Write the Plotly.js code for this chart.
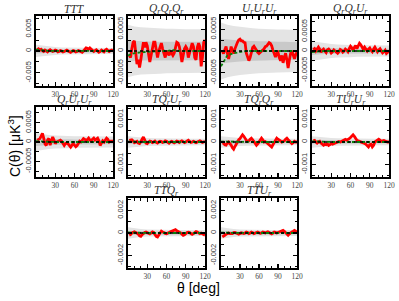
<!DOCTYPE html>
<html><head><meta charset="utf-8">
<script src="https://cdn.plot.ly/plotly-3.0.1.min.js"></script>
<style>html,body{margin:0;padding:0;background:#fff}#chart{width:399px;height:301px}</style>
</head><body><div id="chart"></div>
<script>
// All correlation values below are in units of 1e-4 muK^3
const UNIT = 1e-4;
const theta = [2,4,6,8,10,12,14,16,18,20,22,24,26,28,30,32,34,36,38,40,42,44,46,48,50,52,54,56,58,60,
  62,64,66,68,70,72,74,76,78,80,82,84,86,88,90,92,94,96,98,100,102,104,106,108,110,112,114,116,118,120];
const thetaBand = [0,10,20,30,40,50,60,70,80,90,100,110,120];
const xTickVals = [30,60,90,120];
const xTickText = ['30','60','90','120'];

const panelTitles = ['TTT','Q<sub>r</sub>Q<sub>r</sub>Q<sub>r</sub>','U<sub>r</sub>U<sub>r</sub>U<sub>r</sub>','Q<sub>r</sub>Q<sub>r</sub>U<sub>r</sub>',
  'Q<sub>r</sub>U<sub>r</sub>U<sub>r</sub>','TQ<sub>r</sub>U<sub>r</sub>','TQ<sub>r</sub>Q<sub>r</sub>','TU<sub>r</sub>U<sub>r</sub>',
  'TTQ<sub>r</sub>','TTU<sub>r</sub>'];

// red: measured correlation
const redTTT = [3,5,2,4,1,-1,2,0,-2,1,3,1,-1,0,2,1,-2,-1,1,0,-2,-1,1,2,0,-1,-3,-1,1,0,
  -2,-1,1,0,-1,-3,0,5,7,6,4,7,5,2,-1,1,3,0,-3,-1,2,0,-2,2,4,1,-1,1,2,0];
const redQQQ = [-1,-1.5,0.5,2,2.3,0,-3,-2,-3.8,-2,0.5,2,0.8,2,1.2,-1,-2.5,-1,0.8,2,2,0.5,-1.5,0,1.2,1.8,0.5,-0.5,-1.5,0,
  -0.5,-1,0,-0.5,-1,-0.5,0.8,2,1.8,1,-0.5,-2.5,-1,0.5,1,0.5,-1.5,-0.5,0.5,1.8,1,-1.5,-2,0.8,1.8,1,-3.5,-1.5,2,2.5];
const redUUU = [0,-0.6,0.3,1,-0.5,-1.8,-0.5,1,0.2,-0.6,0.5,1.5,2,2.5,2.7,2.3,2.3,2,1.9,-0.5,-1.4,-2.2,-1.5,-0.2,0.8,1.1,0.5,0,-0.3,-0.6,
  -0.4,0,0.2,0.5,1,1.1,1.5,1.9,1.7,1.2,0.2,-0.8,-1.4,-0.5,-0.3,-1.5,-2.2,-1,-2.7,-1.5,-0.5,-2,-3.9,-2,-0.5,0,-1,-1.8,-0.8,-0.3];
const redQQU = [0.3,0.6,0,0.5,1,0.5,-0.3,0.2,0.5,0,-0.4,0.3,0.5,0.1,-0.5,-0.2,0.3,0,-0.3,-0.6,-0.2,0.4,0.2,-0.3,0,0.5,0.2,-0.2,0.6,1.2,
  0.8,0.2,0.9,1.4,0.6,1.2,2,1.6,0.8,0.4,1,0.6,0,0.5,0.8,0.2,-0.2,0.5,1,0.4,-0.2,0.3,0.6,0,-0.5,-0.2,0.2,-0.6,-0.2,0];
const redQUU = [0.4,0.7,0.9,1.5,2.2,1,-0.5,-0.9,0.5,0.9,-0.8,0.3,1.3,0.5,-0.4,0,0.2,0.3,0.5,0.2,-0.6,-0.9,-0.4,-0.3,-0.5,-0.9,-1.3,-0.8,-0.4,-0.8,
  -1.2,-0.9,-0.4,0.2,0,0.5,0.9,0.7,0.4,0.6,1,0.5,0.4,0.7,1,0.5,0.8,1,0.3,-0.9,-0.3,0.3,0,0.6,1,0.7,0,0.2,0.3,0.2];
const redTQU = [0.7,0.8,1,0.5,-0.3,0,0.3,-0.5,-0.7,0.2,1.5,2.2,1,-0.5,-0.7,0,0.4,0.2,-0.3,0,0.4,-0.2,-0.5,0,0.3,0.2,-0.2,0,0.5,0.3,
  -0.3,-0.5,0,0.3,0,-0.4,0,0.4,0.2,-0.2,0.2,0.5,0.2,-0.3,0,0.5,0.8,0.3,-0.2,0,0.3,0,-0.3,0,0.2,0.5,0.2,-0.2,0,0.3];
const redTQQ = [-0.7,-0.5,-1.2,-1.4,-0.5,0,-0.8,-1.4,-2.5,-3.2,-2,-0.8,0.5,1,1.5,2.2,3.2,2.5,1.5,0.8,0.3,0.5,1.2,1.7,1,0.3,-0.5,-1.4,-0.8,0,
  1,1.7,1,0,0.2,-0.3,-0.7,-1.2,-1.8,-2.2,-1.2,0,1,1.7,1.2,1,0.5,0,0.2,0.5,1.2,1.7,1,0.3,-0.3,-0.7,-0.3,0.3,0,0];
const redTUU = [0.5,0.7,0,-0.5,0,0.3,-0.5,-1,-1.4,-1,-1.2,-0.8,-1.5,-1.2,-0.7,-1,-0.8,-0.5,-0.2,0,0.2,0,0.3,0.7,1,1.2,0.8,1,1.5,2,
  2.8,3.2,2.5,1.3,0.8,0.5,0.3,0,0,-0.3,-0.7,-1,-1.8,-2.2,-1.2,-1,-2.2,-1.5,0,0.5,1,1.2,0.8,0.3,0.5,0.7,0.4,0,0,0];
const redTTQ = [-2,-1.5,0,0.5,1,0.5,0,-1,-2.5,-2.9,-1.5,0,0.5,0.8,0.3,-0.5,-0.8,0,1,0.5,-1.5,-3,-3.5,-1.5,0.5,1.7,1,0,-0.3,-0.6,
  -0.3,0.5,1,1.5,2.5,3.2,3,2,1.5,0.8,0,-1,-2,-1.5,0,0.5,0.8,0.5,-0.5,-1.2,-0.5,0.8,1.2,0.8,-0.2,-0.6,0,-0.8,-1.5,-2];
const redTTU = [-3.5,-3,-2,-1.2,-0.5,0,-0.5,-0.8,-0.5,0.3,0.5,0,-0.8,-1,-0.5,0.2,0,-0.5,0,0.8,0.5,-0.5,0,0.8,0.3,-0.6,0,0.5,0.8,0.3,
  -0.3,0,0.8,0.5,0,0.6,1,0.5,-0.5,-0.8,0,0.8,0.5,0,0.5,1,1.5,2,2.3,1.5,0,-1.5,-2,-0.8,0.3,1,1.5,2.2,1.5,0.8];

// green: simulation mean (on thetaBand)
const greenTTT = [3,1,0.5,0.2,0,0,0,0,0,0,0,0,0];
const greenQQQ = [-1,-0.5,-0.3,-0.2,0,0,0,0.2,0,0,0,0,0];
const greenUUU = [-3.5,-1,-0.5,-0.2,0,0,0,0,0,0,0,0,0];
const greenQQU = [-0.3,-0.1,0,0,0,0,0,0,0,0,0,0,0];
const greenQUU = [0.2,0.1,0,0,0,0,0,0,0,0,0,0,0];
const greenTQU = [0.2,0,0,0,0,0,0,0,0,0,0,0,0];
const greenTQQ = [0.2,0.1,0,0,0,0,0,0,0,0,0,0,0];
const greenTUU = [0.3,0.1,0,0,0,0,0,0,0,0,0,0,0];
const greenTTQ = [0.5,0.2,0,0,0,0,0,0,0,0,0,0,0];
const greenTTU = [0.3,0.1,0,0,0,0,0,0,0,0,0,0,0];

// gray bands: half-widths of outer (2 sigma) and inner (1 sigma) regions (on thetaBand)
const outerTTT = [14,12,10,9,8,8,7,7,7,7,7,7,7];
const innerTTT = [6,5,4,4,3.5,3.5,3,3,3,3,3,3,3];
const outerQQQ = [6,5.6,5.4,5.3,5.2,5.2,5.1,5.1,5,5,5,5,5];
const innerQQQ = [2.4,2.3,2.2,2.2,2.1,2.1,2.1,2.1,2.1,2.1,2.1,2.1,2.1];
const outerUUU = [6.5,6,5.7,5.5,5.3,5.2,5.1,5,5,4.9,4.9,4.8,4.8];
const innerUUU = [2.8,2.6,2.5,2.4,2.3,2.3,2.2,2.2,2.1,2.1,2.1,2,2];
const outerQQU = [2.5,2.2,2,1.8,1.7,1.6,1.6,1.5,1.5,1.5,1.4,1.4,1.4];
const innerQQU = [1,0.9,0.8,0.7,0.7,0.7,0.6,0.6,0.6,0.6,0.6,0.6,0.6];
const outerQUU = [2.3,2,1.8,1.7,1.6,1.6,1.5,1.5,1.5,1.4,1.4,1.4,1.4];
const innerQUU = [1,0.9,0.8,0.7,0.7,0.7,0.6,0.6,0.6,0.6,0.6,0.6,0.6];
const outerTQ = [2.5,2.2,2,1.8,1.7,1.6,1.6,1.5,1.5,1.5,1.4,1.4,1.4];
const innerTQ = [1,0.9,0.8,0.7,0.7,0.7,0.6,0.6,0.6,0.6,0.6,0.6,0.6];
const outerTT = [5,4,3.5,3.2,3,3,2.8,2.8,2.7,2.7,2.6,2.6,2.6];
const innerTT = [2,1.7,1.5,1.4,1.3,1.3,1.2,1.2,1.2,1.2,1.1,1.1,1.1];

// y-axis limits and tick values (units of 1e-4)
const yLimits = [80,8,8,9, 9,15.5,15.5,15.5, 31,31];
const yTickStep = [50,5,5,5, 5,10,10,10, 20,20];
const yTickLabels = [
  ['-0.005','0','0.005'],['-0.0005','0','0.0005'],['-0.0005','0','0.0005'],['-0.0005','0','0.0005'],
  ['-0.0005','0','0.0005'],['-0.001','0','0.001'],['-0.001','0','0.001'],['-0.001','0','0.001'],
  ['-0.002','0','0.002'],['-0.002','0','0.002']];

const reds = [redTTT,redQQQ,redUUU,redQQU,redQUU,redTQU,redTQQ,redTUU,redTTQ,redTTU];
const greens = [greenTTT,greenQQQ,greenUUU,greenQQU,greenQUU,greenTQU,greenTQQ,greenTUU,greenTTQ,greenTTU];
const outers = [outerTTT,outerQQQ,outerUUU,outerQQU,outerQUU,outerTQ,outerTQ,outerTQ,outerTT,outerTT];
const inners = [innerTTT,innerQQQ,innerUUU,innerQQU,innerQUU,innerTQ,innerTQ,innerTQ,innerTT,innerTT];

// layout geometry (pixels)
const W = 399, H = 301;
const colPx = [[36,113],[128,205],[221,297],[312,389]];
const rowPx = [[16,86],[107,177],[198,268]];
const cells = [[0,0],[0,1],[0,2],[0,3],[1,0],[1,1],[1,2],[1,3],[2,1],[2,2]];

const data = [], layout = {
  width: W, height: H, margin: {l:0,r:0,t:0,b:0}, showlegend: false,
  paper_bgcolor: '#fff', plot_bgcolor: '#fff', shapes: [], annotations: []
};

cells.forEach((rc, i) => {
  const k = i + 1, sfx = k === 1 ? '' : String(k);
  const [r, c] = rc;
  const xd = [colPx[c][0] / W, colPx[c][1] / W];
  const yd = [1 - rowPx[r][1] / H, 1 - rowPx[r][0] / H];
  const band = (hw) => ({
    x: thetaBand.concat(thetaBand.slice().reverse()),
    y: thetaBand.map((t, j) => hw[j] * UNIT).concat(thetaBand.map((t, j) => -hw[j] * UNIT).reverse()),
  });
  const bo = band(outers[i]), bi = band(inners[i]);
  data.push({x: bo.x, y: bo.y, xaxis: 'x' + sfx, yaxis: 'y' + sfx, type: 'scatter', mode: 'lines',
    fill: 'toself', fillcolor: '#e4e4e4', line: {width: 0}, hoverinfo: 'skip'});
  data.push({x: bi.x, y: bi.y, xaxis: 'x' + sfx, yaxis: 'y' + sfx, type: 'scatter', mode: 'lines',
    fill: 'toself', fillcolor: '#c9c9c9', line: {width: 0}, hoverinfo: 'skip'});
  data.push({x: theta, y: reds[i].map(v => v * UNIT), xaxis: 'x' + sfx, yaxis: 'y' + sfx, type: 'scatter',
    mode: 'lines', line: {color: '#ff0000', width: 2.8}});
  data.push({x: thetaBand, y: greens[i].map(v => v * UNIT), xaxis: 'x' + sfx, yaxis: 'y' + sfx, type: 'scatter',
    mode: 'lines', line: {color: '#0a800a', width: 1.8, dash: '3px,2px'}});

  const lim = yLimits[i] * UNIT, st = yTickStep[i] * UNIT;
  layout['xaxis' + sfx] = {
    domain: xd, anchor: 'y' + sfx, range: [0, 120], tickmode: 'array', tickvals: xTickVals, ticktext: xTickText,
    showline: true, linewidth: 2, linecolor: '#000', mirror: 'allticks', ticks: 'inside', ticklen: 4, tickwidth: 1.2,
    tickcolor: '#000', showgrid: false, zeroline: false,
    minor: {ticks: 'inside', ticklen: 2.5, tickwidth: 1, tickcolor: '#000', dtick: 10, tick0: 0, showgrid: false},
    tickfont: {family: 'Liberation Serif, serif', size: 7.5, color: '#444'}
  };
  layout['yaxis' + sfx] = {
    domain: yd, anchor: 'x' + sfx, range: [-lim, lim], tickmode: 'array', tickvals: [-st, 0, st], ticktext: yTickLabels[i],
    showline: true, linewidth: 2, linecolor: '#000', mirror: 'allticks', ticks: 'inside', ticklen: 4, tickwidth: 1.2,
    tickcolor: '#000', showgrid: false, zeroline: false, tickangle: -90,
    minor: {ticks: 'inside', ticklen: 2.5, tickwidth: 1, tickcolor: '#000', dtick: st / 2, tick0: 0, showgrid: false},
    tickfont: {family: 'Liberation Sans, Arial, sans-serif', size: 7.5, color: '#333'}
  };
  layout.shapes.push({type: 'line', xref: 'x' + sfx + ' domain', yref: 'y' + sfx, x0: 0, x1: 1, y0: 0, y1: 0,
    line: {color: '#000', width: 1.5, dash: 'dot'}});
  layout.annotations.push({text: '<i>' + panelTitles[i] + '</i>', xref: 'paper', yref: 'paper',
    x: (xd[0] + xd[1]) / 2, y: 1 - (rowPx[r][0] - 7) / H, xanchor: 'center', yanchor: 'middle', showarrow: false,
    font: {family: 'Liberation Serif, serif', size: 11.5, color: '#333'}});
});

layout.annotations.push({text: 'C(θ) [μK<sup>3</sup>]', xref: 'paper', yref: 'paper', x: 14 / W, y: 1 - 146 / H,
  textangle: -90, showarrow: false, xanchor: 'center', yanchor: 'middle',
  font: {family: 'Liberation Sans, Arial, sans-serif', size: 14, color: '#000'}});
layout.annotations.push({text: 'θ [deg]', xref: 'paper', yref: 'paper', x: 198 / W, y: 1 - 288 / H,
  showarrow: false, xanchor: 'center', yanchor: 'middle',
  font: {family: 'Liberation Sans, Arial, sans-serif', size: 14, color: '#000'}});

Plotly.newPlot('chart', data, layout, {staticPlot: true, displayModeBar: false});
</script></body></html>
